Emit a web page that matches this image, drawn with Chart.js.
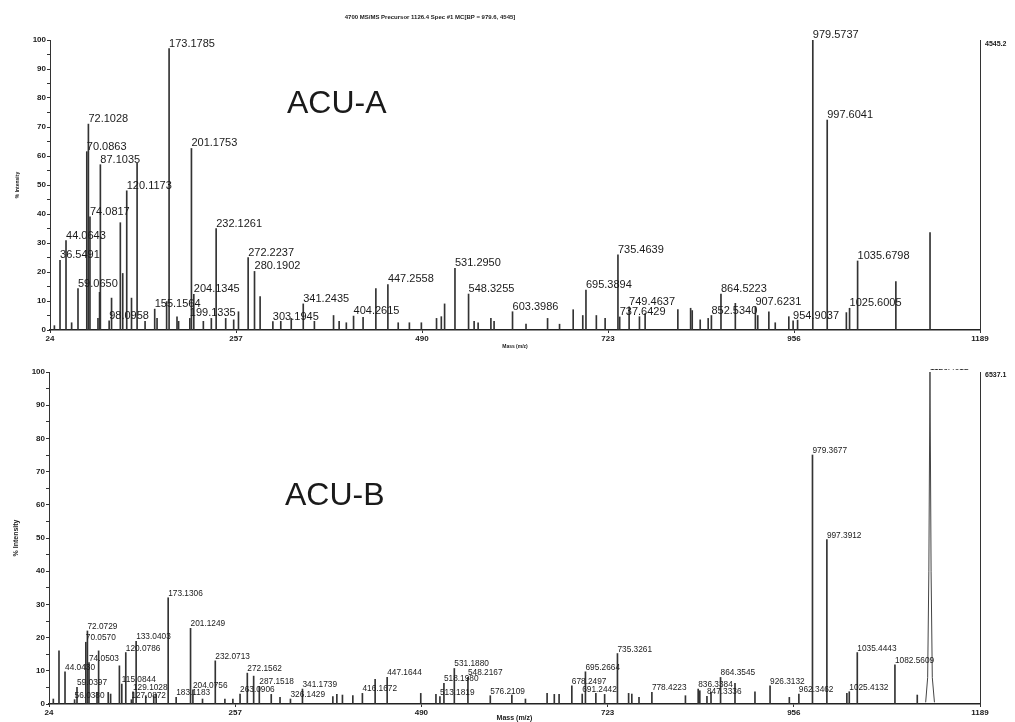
<!DOCTYPE html>
<html>
<head>
<meta charset="utf-8">
<script src="https://cdn.jsdelivr.net/npm/chart.js@4.4.1/dist/chart.umd.min.js"></script>
<style>
  body { margin: 0; background: #fff; }
  .box { position: absolute; left: 0; width: 1015px; }
</style>
</head>
<body>
<div class="box" style="top:0;height:352px"><canvas id="specA"></canvas></div>
<div class="box" style="top:352px;height:370px"><canvas id="specB"></canvas></div>
<script>
// axis ticks
const massTicks = [24, 257, 490, 723, 956, 1189];
const intensityTicks = [0, 5, 10, 15, 20, 25, 30, 35, 40, 45, 50, 55, 60, 65, 70, 75, 80, 85, 90, 95, 100];

// ACU-A spectrum (peak m/z, % intensity)
const aMass = [
  29.5, 36.55, 44.06, 51.1, 59.07, 70.09, 72.10, 74.08, 84.1, 86.1,
  87.10, 98.10, 101.1, 112.1, 115.1, 120.12, 126.1, 133.1, 143.1, 155.16,
  158.1, 170.1, 173.18, 183.1, 185.1, 199.13, 201.18, 204.13, 216.1, 226.1,
  232.13, 244.1, 254.1, 260.1, 272.22, 280.19, 287.2, 303.19, 313.1, 326.2,
  341.24, 355.2, 379.2, 386.2, 395.2, 404.26, 416.2, 432.2, 447.26, 460.2,
  474.2, 489.2, 508.2, 514.2, 518.3, 531.3, 548.33, 555.3, 560.3, 576.3,
  580.3, 603.4, 620.3, 647.3, 662.3, 679.4, 691.4, 695.39, 708.4, 719.4,
  735.46, 737.64, 749.46, 762.4, 769.5, 810.5, 826.5, 828.5, 838.5, 848.5,
  852.53, 864.52, 882.5, 907.62, 910.6, 924.5, 932.5, 949.5, 954.90, 960.5,
  979.57, 997.60, 1021.6, 1025.60, 1035.68, 1083.6, 1126.4
];
const aIntensity = [
  1.5, 24, 30.8, 2.5, 14.3, 61.5, 71, 39, 4, 13,
  57, 3.2, 11, 37, 19.5, 48, 11, 57.5, 3, 7.2,
  4, 9.8, 97, 4.5, 3, 4, 62.6, 12.3, 3, 4,
  35, 4, 3.5, 6.3, 25, 20.2, 11.5, 2.9, 3, 4,
  9, 3, 5, 3, 2.5, 4.8, 4.4, 14.3, 15.7, 2.5,
  2.5, 2.5, 4, 4.6, 9, 21.3, 12.4, 3, 2.5, 4,
  3, 6.3, 2, 4, 2, 7, 5, 13.8, 5, 4,
  25.9, 4.5, 8, 4.6, 5.7, 7, 7.5, 6.7, 3.5, 4,
  5, 12.4, 9.2, 8, 5, 6.3, 2.5, 4.6, 3.2, 3.4,
  100, 72.4, 6, 7.5, 23.8, 16.7, 33.6
];
const aPeakLabels = [
  '36.5491', '44.0643', '59.0650', '70.0863', '72.1028', '74.0817', '87.1035', '98.0958',
  '120.1173', '155.1564', '173.1785', '199.1335', '201.1753', '204.1345', '232.1261',
  '272.2237', '280.1902', '303.1945', '341.2435', '404.2615', '447.2558', '531.2950',
  '548.3255', '603.3986', '695.3894', '735.4639', '737.6429', '749.4637', '852.5340',
  '864.5223', '907.6231', '954.9037', '979.5737', '997.6041', '1025.6005', '1035.6798'
];

// ACU-B spectrum
const bMass = [
  29.4, 36.5, 44.04, 56.04, 59.04, 70.06, 72.07, 74.05, 84.1, 86.1,
  98.1, 101.1, 112.1, 115.08, 120.08, 127.09, 129.10, 133.04, 145.1, 155.1,
  158.1, 173.13, 183.12, 201.12, 204.08, 216.1, 232.07, 244.1, 254.1, 263.09,
  272.16, 280.1, 287.15, 302.1, 313.1, 326.14, 341.17, 379.2, 384.2, 391.2,
  404.2, 416.17, 432.1, 447.16, 489.2, 508.2, 513.18, 518.20, 531.19, 548.22,
  576.21, 603.2, 620.2, 647.3, 656.3, 662.3, 678.25, 691.24, 695.27, 708.3,
  719.3, 735.33, 749.3, 753.3, 762.3, 778.42, 820.4, 836.34, 838.4, 847.33,
  852.4, 864.35, 882.4, 907.4, 926.31, 950.4, 962.35, 979.37, 997.39, 1022.4,
  1025.41, 1035.44, 1082.56, 1110.5
];
const bIntensity = [
  1.5, 16, 9.7, 1.3, 5, 18.6, 22, 12.5, 3.5, 16,
  3.5, 3, 11.5, 6, 15.5, 1.3, 3.7, 18.9, 2.5, 2.5,
  3, 32, 2, 22.8, 4.3, 1.5, 13, 1.5, 1.5, 3,
  9.3, 8.4, 5.3, 2.9, 2, 1.5, 4.5, 2.2, 2.9, 2.7,
  2.5, 3.2, 7.4, 8, 3.2, 2.9, 2.2, 6.2, 10.7, 8,
  2.5, 2.7, 1.5, 3.2, 2.9, 2.9, 5.5, 3, 9.7, 3.2,
  2.9, 15.2, 3.2, 3, 2, 3.5, 2.5, 4.5, 4, 2.3,
  3.5, 8, 6.2, 3.7, 5.5, 2, 3, 75, 49.5, 3.2,
  3.7, 15.5, 11.8, 2.7
];
// broad precursor peak in ACU-B
const bPrecursorMass = [1121, 1123.5, 1125, 1126.4, 1127.8, 1129.3, 1132];
const bPrecursorIntensity = [0.5, 8, 40, 100, 40, 8, 0.5];
const bPeakLabels = [
  '44.0430', '56.0380', '59.0397', '70.0570', '72.0729', '74.0503', '115.0844', '120.0786',
  '127.0872', '129.1028', '133.0403', '173.1306', '183.1183', '201.1249', '204.0756',
  '232.0713', '263.0906', '272.1562', '287.1518', '326.1429', '341.1739', '416.1672',
  '447.1644', '513.1819', '518.1980', '531.1880', '548.2167', '576.2109', '678.2497',
  '691.2442', '695.2664', '735.3261', '778.4223', '836.3384', '847.3336', '864.3545',
  '926.3132', '962.3462', '979.3677', '997.3912', '1025.4132', '1035.4443', '1082.5609',
  '1126.4012'
];

const headerText = '4700 MS/MS Precursor 1126.4 Spec #1 MC[BP = 979.6, 4545]';
const sampleA = 'ACU-A', sampleB = 'ACU-B';
const totalA = '4545.2', totalB = '6537.1';

const FONT = "'Liberation Sans', Arial, sans-serif";
const INK = '#1a1a1a';

// labels over peaks, and free texts
const peakLabelPlugin = {
  id: 'peakLabels',
  afterDatasetsDraw(chart, args, opts) {
    const {ctx, chartArea} = chart;
    const xs = chart.scales.x, ys = chart.scales.y;
    const pts = [];
    chart.data.datasets.forEach(ds => ds.data.forEach(p => pts.push(p)));
    ctx.save();
    if (opts.clipTop != null) {
      ctx.beginPath();
      ctx.rect(0, chartArea.top + opts.clipTop, chart.width, chart.height);
      ctx.clip();
    }
    ctx.font = opts.font;
    ctx.fillStyle = INK;
    ctx.textAlign = 'left';
    ctx.textBaseline = 'alphabetic';
    (opts.labels || []).forEach(t => {
      const m = parseFloat(t);
      let best = pts[0];
      pts.forEach(p => { if (Math.abs(p.x - m) < Math.abs(best.x - m)) best = p; });
      ctx.fillText(t, xs.getPixelForValue(best.x), ys.getPixelForValue(best.y) - 2);
    });
    ctx.restore();
    ctx.save();
    ctx.fillStyle = INK;
    (opts.notes || []).forEach(n => {
      ctx.font = n.font;
      ctx.textAlign = n.align || 'left';
      ctx.textBaseline = n.baseline || 'middle';
      ctx.fillText(n.text, n.x, n.y);
    });
    ctx.restore();
  }
};

function spectrumChart(id, opt) {
  const datasets = [{
    type: 'bar',
    data: opt.mass.map((m, i) => ({x: m, y: opt.intensity[i]})),
    backgroundColor: '#333',
    barThickness: 1,
    grouped: false
  }];
  if (opt.profileMass) {
    datasets.push({
      type: 'line',
      data: opt.profileMass.map((m, i) => ({x: m, y: opt.profileIntensity[i]})),
      borderColor: '#444',
      borderWidth: 1,
      fill: false,
      pointRadius: 0,
      tension: 0
    });
  }
  return new Chart(document.getElementById(id), {
    type: 'bar',
    data: {datasets},
    plugins: [peakLabelPlugin],
    options: {
      responsive: true,
      maintainAspectRatio: false,
      animation: false,
      layout: {padding: {top: opt.top, right: 35, left: 0, bottom: 0}},
      plugins: {
        legend: {display: false},
        tooltip: {enabled: false},
        peakLabels: {labels: opt.labels, font: opt.labelFont, clipTop: opt.clipTop, notes: opt.notes}
      },
      scales: {
        x: {
          type: 'linear',
          min: 24, max: 1189,
          offset: false,
          afterBuildTicks: s => { s.ticks = massTicks.map(v => ({value: v})); },
          afterFit: s => { s.height = opt.xHeight; },
          ticks: {autoSkip: false, maxRotation: 0, padding: 1, color: INK,
                  font: {family: FONT, size: 8, weight: 'bold'},
                  callback: v => String(v)},
          grid: {offset: false, drawOnChartArea: false, tickLength: 3, color: '#333'},
          border: {color: '#222', width: 1.5},
          title: {display: true, text: 'Mass (m/z)', color: INK,
                  font: {family: FONT, size: opt.axisTitleSize, weight: 'bold'},
                  padding: {top: 0, bottom: opt.xTitlePad}}
        },
        y: {
          min: 0, max: 100,
          afterBuildTicks: s => { s.ticks = intensityTicks.map(v => ({value: v})); },
          afterFit: s => { s.width = opt.yWidth; },
          ticks: {padding: 1, color: INK, font: {family: FONT, size: 8, weight: 'bold'},
                  callback: v => (v % 10 === 0 ? String(v) : '')},
          grid: {drawOnChartArea: false, tickLength: 3, color: '#333'},
          border: {color: '#333'},
          title: {display: true, text: '% Intensity', color: INK,
                  font: {family: FONT, size: opt.axisTitleSize, weight: 'bold'},
                  padding: {top: opt.yTitlePad, bottom: 0}}
        },
        y2: {
          position: 'right',
          min: 0, max: 100,
          afterFit: s => { s.width = 0; },
          ticks: {display: false},
          grid: {drawOnChartArea: false, drawTicks: false},
          border: {color: '#333'}
        }
      }
    }
  });
}

spectrumChart('specA', {
  mass: aMass, intensity: aIntensity, labels: aPeakLabels,
  labelFont: '11px ' + FONT,
  top: 40, xHeight: 22, yWidth: 50, axisTitleSize: 5, xTitlePad: 2, yTitlePad: 15,
  notes: [
    {text: headerText, x: 430, y: 17, font: 'bold 6px ' + FONT, align: 'center'},
    {text: sampleA, x: 287, y: 113, font: '32px ' + FONT, baseline: 'alphabetic'},
    {text: totalA, x: 985, y: 44, font: 'bold 7px ' + FONT}
  ]
});

spectrumChart('specB', {
  mass: bMass, intensity: bIntensity, labels: bPeakLabels,
  profileMass: bPrecursorMass, profileIntensity: bPrecursorIntensity,
  labelFont: '8.3px ' + FONT, clipTop: -3,
  top: 20, xHeight: 18, yWidth: 49, axisTitleSize: 7, xTitlePad: 0, yTitlePad: 12,
  notes: [
    {text: sampleB, x: 285, y: 153, font: '32px ' + FONT, baseline: 'alphabetic'},
    {text: totalB, x: 985, y: 23, font: 'bold 7px ' + FONT}
  ]
});
</script>
</body>
</html>
